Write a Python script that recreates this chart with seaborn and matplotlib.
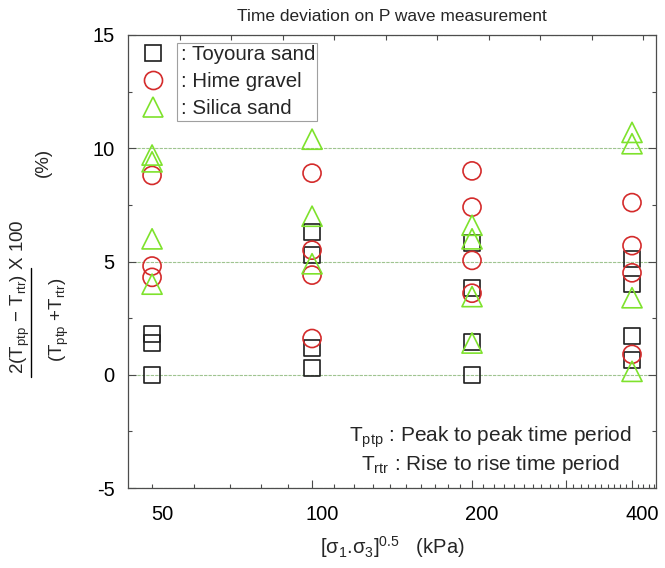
import matplotlib
matplotlib.use("Agg")
import matplotlib.pyplot as plt
import numpy as np
import pandas as pd
import seaborn as sns
from matplotlib.ticker import FixedLocator, FixedFormatter, NullFormatter
from matplotlib.lines import Line2D
from matplotlib.patches import Rectangle
from matplotlib.transforms import ScaledTranslation, IdentityTransform, Bbox

# Confining pressure [s1.s3]^0.5 (kPa) and time deviation (%) per material
toyoura_pressure = [50, 50, 50, 100, 100, 100, 100, 200, 200, 200, 200, 400, 400, 400, 400]
toyoura_dev = [1.8, 1.4, 0.0, 6.3, 5.3, 1.2, 0.3, 5.8, 3.85, 1.45, 0.0, 5.1, 4.0, 1.7, 0.65]

hime_pressure = [50, 50, 50, 100, 100, 100, 100, 200, 200, 200, 200, 400, 400, 400, 400]
hime_dev = [8.8, 4.8, 4.3, 8.9, 5.5, 4.4, 1.6, 9.0, 7.4, 5.05, 3.6, 7.6, 5.7, 4.5, 0.9]

silica_pressure = [50, 50, 50, 50, 100, 100, 100, 200, 200, 200, 200, 400, 400, 400, 400]
silica_dev = [9.7, 9.4, 6.0, 4.0, 10.4, 7.0, 4.9, 6.6, 6.0, 3.45, 1.4, 10.7, 10.2, 3.4, 0.15]

materials = [": Toyoura sand", ": Hime gravel", ": Silica sand"]
x_tick_values = [50, 100, 200, 300, 400]
x_tick_labels = ["50", "100", "200", "", "400"]
y_tick_values = [-5, 0, 5, 10, 15]

sns.set_theme(style="ticks")
plt.rcParams.update({
    "font.family": ["Liberation Sans", "DejaVu Sans"],
    "mathtext.fontset": "custom",
    "mathtext.rm": "Liberation Sans",
    "mathtext.it": "Liberation Sans:italic",
    "mathtext.default": "regular",
    "axes.unicode_minus": True,
})

W, H = 665, 568
fig = plt.figure(figsize=(W / 100, H / 100), dpi=100)
ax = fig.add_axes([128 / W, 1 - 488 / H, 528 / W, 453 / H])

styles = [
    (toyoura_pressure, toyoura_dev, "s", 11.5, "#1e1e1e"),
    (hime_pressure, hime_dev, "o", 13.0, "#d42b2b"),
    (silica_pressure, silica_dev, "^", 14.5, "#7ee22c"),
]

frames = []
for name, (px, dv, mk, ms, col) in zip(materials, styles):
    frames.append(pd.DataFrame({"pressure": px, "deviation": dv, "material": name}))
data = pd.concat(frames, ignore_index=True)

handles = []
for name, (px, dv, mk, ms, col) in zip(materials, styles):
    sub = data[data["material"] == name]
    sns.scatterplot(data=sub, x="pressure", y="deviation", marker=mk, s=ms ** 2,
                    facecolor="none", edgecolor=col, linewidth=1.2, ax=ax,
                    legend=False, zorder=3)
    handles.append(Line2D([], [], ls="none", marker=mk, ms=ms, mfc="none",
                          mec=col, mew=1.2))

ax.set_xscale("log")
ax.set_xlim(45.05, 443.8)
ax.set_ylim(-5, 15)

# y axis
ax.yaxis.set_major_locator(FixedLocator(y_tick_values))
ax.yaxis.set_minor_locator(FixedLocator(np.arange(-5, 15.1, 2.5)))
ax.yaxis.set_minor_formatter(NullFormatter())
ax.set_yticklabels([str(v) for v in y_tick_values])

# x axis: long ticks every 100, short ticks every 10
ax.xaxis.set_major_locator(FixedLocator(x_tick_values))
ax.xaxis.set_major_formatter(FixedFormatter(x_tick_labels))
minor_x = [v for v in range(50, 441, 10) if v not in x_tick_values]
ax.xaxis.set_minor_locator(FixedLocator(minor_x))
ax.xaxis.set_minor_formatter(NullFormatter())

tick_col = "#4a4a4a"
ax.tick_params(axis="both", which="major", direction="in", length=5.8, width=0.8,
               color=tick_col, labelsize=14.5, labelcolor="black")
ax.tick_params(axis="both", which="minor", direction="in", length=2.9, width=0.8,
               color=tick_col)
ax.tick_params(axis="y", which="both", left=True, right=True, pad=9.5)
ax.tick_params(axis="x", which="both", bottom=True, top=False, pad=12.5)

for sp in ax.spines.values():
    sp.set_color("#4d4d4d")
    sp.set_linewidth(0.9)

ax.yaxis.grid(True, which="major", color="#9fc490", linestyle=(0, (3, 1)), linewidth=0.8)
ax.xaxis.grid(False)
ax.set_axisbelow(True)

# the first x tick is drawn short, like the intermediate ones
fig.canvas.draw()
xticks = ax.xaxis.get_major_ticks()
xticks[0].tick1line.set_markersize(2.9)
shift = ScaledTranslation(10 / 100, 0, fig.dpi_scale_trans)
for t in xticks:
    t.label1.set_transform(t.label1.get_transform() + shift)

# evenly spaced ticks along the top edge
top = ax.twiny()
top.set_xlim(0, 528 / 51.5)
top.set_xticks(np.arange(1, 11))
top.tick_params(axis="x", which="major", direction="in", length=3.6, width=0.8,
                color=tick_col, labeltop=False, top=True)
for sp in top.spines.values():
    sp.set_visible(False)
top.grid(False)

ax.set_title("Time deviation on P wave measurement", fontsize=12.5, pad=10)
ax.set_xlabel("[σ$_1$.σ$_3$]$^{0.5}$   (kPa)", fontsize=14.5, labelpad=7)
ax.set_ylabel("")

# y label written as a fraction
def fx(px):
    return px / W

def fy(py):
    return 1 - py / H

fig.text(fx(20), fy(297), "2(T$_{ptp}$ − T$_{rtr}$) X 100", rotation=90,
         ha="center", va="center", fontsize=13.5)
fig.text(fx(43), fy(162), "(%)", rotation=90, ha="center", va="center", fontsize=13.5)
fig.text(fx(59), fy(320), "(T$_{ptp}$ +T$_{rtr}$)", rotation=90,
         ha="center", va="center", fontsize=13.5)
fig.add_artist(Line2D([fx(31), fx(31)], [fy(268), fy(377)], transform=fig.transFigure,
                      color="black", lw=1.0))

ax.text((490 - 128) / 528, (488 - 450) / 453,
        "T$_{ptp}$ : Peak to peak time period\nT$_{rtr}$ : Rise to rise time period",
        transform=ax.transAxes, ha="center", va="center", fontsize=15, linespacing=1.15)

leg = ax.legend(handles, materials, loc="upper left",
                bbox_to_anchor=((143 - 128) / 528, 1 - (45 - 35) / 453),
                frameon=False, fontsize=14.8, handlelength=1.0, handletextpad=0.85,
                labelspacing=0.4, borderpad=0, borderaxespad=0)

fig.canvas.draw()
renderer = fig.canvas.get_renderer()
bb = Bbox.union([t.get_window_extent(renderer) for t in leg.get_texts()])
fig.add_artist(Rectangle((bb.x0 - 4, bb.y0 - 3), bb.width + 6, bb.height + 5,
                         transform=IdentityTransform(), fill=False,
                         edgecolor="#a0a0a0", lw=0.8))

fig.savefig("out.png", dpi=100)
